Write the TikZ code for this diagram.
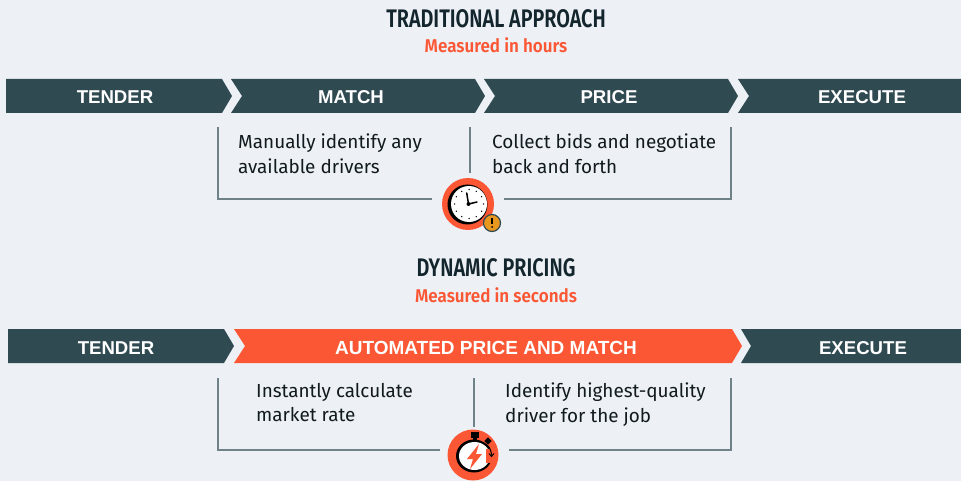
\documentclass[tikz,border=0pt]{standalone}
\usetikzlibrary{calc}
\usepackage{fontspec}
\setmainfont{Liberation Sans}
\newfontfamily\bodyfont{Fira Sans}
\newfontfamily\headfont[FakeStretch=0.78]{Fira Sans SemiBold}
\newfontfamily\subfont[FakeStretch=0.92]{Fira Sans SemiBold}
\definecolor{bgc}{HTML}{EDF1F6}
\definecolor{slatec}{HTML}{304A52}
\definecolor{orangec}{HTML}{FB5734}
\definecolor{linec}{HTML}{6F8288}
\definecolor{amberc}{HTML}{E8971F}
\definecolor{inkc}{HTML}{14262D}
\definecolor{bodyc}{HTML}{111A1E}
\tikzset{
  x=1pt,y=-1pt,
  barfill/.style={fill=slatec,draw=none},
  hotfill/.style={fill=orangec,draw=none},
  barlabel/.style={text=white,font=\fontsize{18.6}{21}\selectfont\bfseries,inner sep=0pt,anchor=center},
  hotlabel/.style={text=white,font=\fontsize{19}{21}\selectfont\bfseries,inner sep=0pt,anchor=center},
  titlelabel/.style={text=inkc,font=\headfont\fontsize{25.4}{28}\selectfont,inner sep=0pt},
  sublabel/.style={text=orangec,font=\subfont\fontsize{18.5}{20}\selectfont,inner sep=0pt},
  bodylabel/.style={text=bodyc,font=\bodyfont\fontsize{18.9}{24.5}\selectfont,inner sep=0pt,anchor=north west,align=left},
  bracket/.style={draw=linec,line width=1.3pt},
}
\begin{document}
\begin{tikzpicture}
\useasboundingbox (0,0) rectangle (961,481);
\fill[bgc] (0,0) rectangle (961,481);

% titles
\node[titlelabel] (t1) at (496,19) {TRADITIONAL APPROACH};
\node[sublabel] (s1) at (496,45.5) {Measured in hours};
\node[titlelabel] (t2) at (496,268) {DYNAMIC PRICING};
\node[sublabel] (s2) at (496,295.5) {Measured in seconds};

% first bar
\fill[barfill] (6,79) -- (222,79) -- (232,96) -- (222,113) -- (6,113) -- cycle;
\fill[barfill] (231,79) -- (475,79) -- (485,96) -- (475,113) -- (231,113) -- (242,96) -- cycle;
\fill[barfill] (484,79) -- (728,79) -- (738,96) -- (728,113) -- (484,113) -- (495,96) -- cycle;
\fill[barfill] (738,79) -- (961,79) -- (961,113) -- (738,113) -- (749,96) -- cycle;
\node[barlabel] (a1) at (115,97) {TENDER};
\node[barlabel] (a2) at (351,97) {MATCH};
\node[barlabel] (a3) at (609,97) {PRICE};
\node[barlabel] (a4) at (862,97) {EXECUTE};

% second bar
\fill[barfill] (8,329) -- (224,329) -- (234,346) -- (224,363) -- (8,363) -- cycle;
\fill[hotfill] (234,329) -- (732,329) -- (742,346) -- (732,363) -- (234,363) -- (245,346) -- cycle;
\fill[barfill] (741,329) -- (961,329) -- (961,363) -- (741,363) -- (751,346) -- cycle;
\node[barlabel] (b1) at (116,348) {TENDER};
\node[hotlabel] (b2) at (486,348) {AUTOMATED PRICE AND MATCH};
\node[barlabel] (b3) at (863,348) {EXECUTE};

% body text
\node[bodylabel] (c1) at (238,134) {Manually identify any\\available drivers};
\node[bodylabel] (c2) at (492,134) {Collect bids and negotiate\\back and forth};
\node[bodylabel] (d1) at (256,383) {Instantly calculate\\market rate};
\node[bodylabel] (d2) at (505,383) {Identify highest-quality\\driver for the job};

% clock icon
\node[circle,fill=orangec,minimum size=52pt,inner sep=0pt] (clk) at (468,204) {};
\fill[black] (467.5,204.5) circle (20);
\fill[white] (469,204) circle (18);
\foreach \a in {0,30,...,330}
  \fill[black] ($(469,204)+(\a:14.5)$) circle (0.75);
\draw[black,line width=1.5pt,line cap=round] (468.5,204) -- (466.7,193);
\draw[black,line width=1.5pt,line cap=round] (468.5,204) -- (477,202);
\fill[black] (468.5,204) circle (2);

% warning badge
\node[circle,fill=amberc,draw=slatec,line width=1.2pt,minimum size=17pt,inner sep=0pt] (warn) at (492,223) {};
\draw[black,line width=1.5pt] (492,218) -- (492,224);
\fill[black] (492,227) circle (1);

% stopwatch icon
\node[circle,fill=orangec,minimum size=51pt,inner sep=0pt] (sw) at (473,455) {};
\fill[black] (474,456) ellipse (18 and 16.5);
\fill[white] (474.5,456) ellipse (15.5 and 14);
\fill[black] (471,432) rectangle (479,438);
\fill[black] (473,437) rectangle (477,441);
\fill[black,rotate around={45:(488,441)}] (485.5,438.5) rectangle (490.5,443.5);
\fill[orangec] (479,444) -- (467,459) -- (473,459) -- (470,469) -- (482,454) -- (476,454) -- cycle;
\fill[orangec] (486,449) rectangle (495,463);
\draw[black,line width=1pt] (487,445) .. controls (490,448) and (491.5,451) .. (491.5,456);
\draw[black,line width=1pt] (489,453.5) -- (491.5,456.5) -- (494,453.5);

% brackets
\coordinate (p1) at (218,127);
\coordinate (p2) at (432,199);
\coordinate (p3) at (731,127);
\coordinate (p4) at (504,199);
\coordinate (p5) at (470,127);
\coordinate (p6) at (470,173);
\draw[bracket] (p1) |- (p2);
\draw[bracket] (p3) |- (p4);
\draw[bracket] (p5) -- (p6);
\coordinate (q1) at (218,378);
\coordinate (q2) at (440,450);
\coordinate (q3) at (731,378);
\coordinate (q4) at (509,450);
\coordinate (q5) at (474,378);
\coordinate (q6) at (474,427);
\draw[bracket] (q1) |- (q2);
\draw[bracket] (q3) |- (q4);
\draw[bracket] (q5) -- (q6);
\end{tikzpicture}
\end{document}
